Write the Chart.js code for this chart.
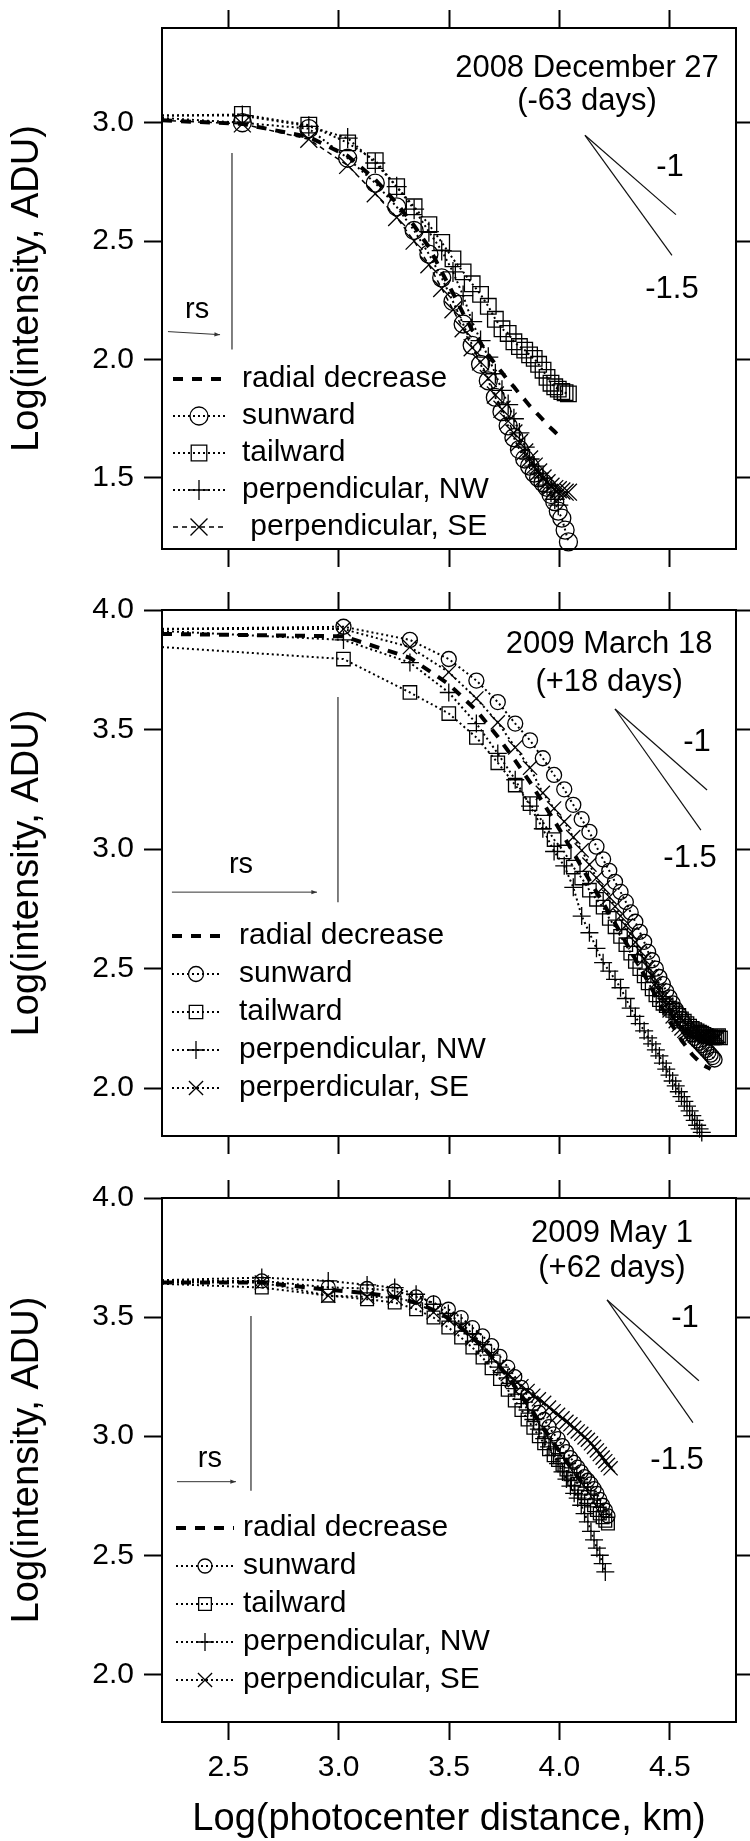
<!DOCTYPE html>
<html>
<head>
<meta charset="utf-8">
<script src="https://cdn.jsdelivr.net/npm/chart.js@4.4.0/dist/chart.umd.min.js"></script>
<style>
  html, body { margin: 0; padding: 0; background: #fff; }
  #wrap { position: relative; width: 750px; height: 1841px; }
  canvas { position: absolute; left: 0; }
</style>
</head>
<body>
<div id="wrap">
  <canvas id="c1" width="750" height="580" style="top:0px"></canvas>
  <canvas id="c2" width="750" height="590" style="top:580px"></canvas>
  <canvas id="c3" width="750" height="671" style="top:1170px"></canvas>
</div>
<script>
// tick values
const xTicks = [2.5, 3.0, 3.5, 4.0, 4.5];
const yTicks1 = [1.5, 2.0, 2.5, 3.0];
const yTicks23 = [2.0, 2.5, 3.0, 3.5, 4.0];

// panel 1: 2008 December 27
const xPanel1 = [2.2, 2.564, 2.865, 3.041, 3.166, 3.263, 3.342, 3.409, 3.467, 3.518, 3.564, 3.605, 3.643, 3.678, 3.710,
  3.740, 3.768, 3.794, 3.819, 3.843, 3.865, 3.886, 3.906, 3.926, 3.944, 3.962, 3.979, 3.995, 4.011, 4.026, 4.041];
const radial1 = [3.01, 2.995, 2.94, 2.86, 2.76, 2.66, 2.565, 2.475, 2.37, 2.28, 2.195, 2.125, 2.07, 2.02, 1.98, 1.945,
  1.91, 1.885, 1.855, 1.83, 1.805, 1.785, 1.765, 1.745, 1.725, 1.71, 1.695, 1.68, 1.665];
const sunward1 = [3.02, 3.00, 2.975, 2.85, 2.745, 2.645, 2.545, 2.445, 2.345, 2.245, 2.15, 2.06, 1.98, 1.91, 1.84, 1.78,
  1.72, 1.67, 1.62, 1.58, 1.55, 1.52, 1.50, 1.48, 1.46, 1.43, 1.40, 1.36, 1.33, 1.28, 1.23];
const tailward1 = [3.03, 3.035, 2.99, 2.915, 2.84, 2.73, 2.645, 2.57, 2.495, 2.425, 2.37, 2.32, 2.275, 2.225, 2.17, 2.13,
  2.11, 2.075, 2.055, 2.04, 2.02, 2.005, 1.98, 1.955, 1.925, 1.90, 1.885, 1.875, 1.865, 1.86, 1.855];
const northwest1 = [3.03, 3.03, 2.985, 2.935, 2.83, 2.73, 2.635, 2.54, 2.46, 2.37, 2.27, 2.16, 2.08, 2.01, 1.94, 1.87,
  1.81, 1.75, 1.69, 1.63, 1.58, 1.55, 1.52, 1.50, 1.47, 1.44, 1.41, 1.385];
const southeast1 = [3.01, 2.995, 2.93, 2.82, 2.70, 2.60, 2.50, 2.40, 2.30, 2.21, 2.13, 2.05, 1.99, 1.92, 1.85, 1.79,
  1.74, 1.69, 1.65, 1.61, 1.58, 1.55, 1.525, 1.50, 1.48, 1.465, 1.455, 1.45, 1.445, 1.44, 1.44];

// panel 2: 2009 March 18
const xPanel2 = [2.2, 3.022, 3.323, 3.499, 3.624, 3.721, 3.800, 3.867, 3.925, 3.976, 4.022, 4.063, 4.101, 4.136, 4.168,
  4.198, 4.226, 4.252, 4.277, 4.301, 4.323, 4.344, 4.364, 4.384, 4.402, 4.420, 4.437, 4.453, 4.469, 4.484, 4.499,
  4.513, 4.527, 4.541, 4.553, 4.566, 4.578, 4.590, 4.602, 4.613, 4.624, 4.635, 4.645, 4.655, 4.665, 4.675, 4.685,
  4.694, 4.703, 4.712, 4.721, 4.730];
const radial2 = [3.90, 3.89, 3.80, 3.69, 3.58, 3.47, 3.37, 3.28, 3.195, 3.12, 3.05, 2.985, 2.925, 2.87, 2.82, 2.775,
  2.73, 2.69, 2.65, 2.61, 2.575, 2.54, 2.505, 2.475, 2.445, 2.415, 2.385, 2.355, 2.33, 2.305, 2.28, 2.26, 2.24, 2.22,
  2.20, 2.185, 2.17, 2.155, 2.14, 2.13, 2.12, 2.11, 2.10, 2.095, 2.09, 2.085, 2.08];
const sunward2 = [3.921, 3.93, 3.875, 3.795, 3.705, 3.615, 3.525, 3.455, 3.38, 3.31, 3.25, 3.185, 3.125, 3.072, 3.01,
  2.957, 2.909, 2.863, 2.821, 2.779, 2.735, 2.696, 2.654, 2.612, 2.570, 2.535, 2.50, 2.465, 2.435, 2.405, 2.38, 2.355,
  2.33, 2.31, 2.29, 2.27, 2.255, 2.24, 2.225, 2.21, 2.20, 2.19, 2.18, 2.17, 2.16, 2.15, 2.14, 2.13, 2.12];
const tailward2 = [3.845, 3.795, 3.655, 3.567, 3.467, 3.361, 3.268, 3.19, 3.113, 3.04, 2.988, 2.925, 2.879, 2.828, 2.79,
  2.757, 2.71, 2.675, 2.635, 2.60, 2.565, 2.53, 2.50, 2.47, 2.44, 2.415, 2.39, 2.37, 2.355, 2.345, 2.335, 2.325, 2.315,
  2.305, 2.29, 2.28, 2.27, 2.26, 2.25, 2.245, 2.24, 2.235, 2.23, 2.225, 2.22, 2.215, 2.215, 2.21, 2.21, 2.215, 2.22, 2.21];
const northwest2 = [3.912, 3.875, 3.78, 3.655, 3.525, 3.40, 3.29, 3.18, 3.085, 2.99, 2.93, 2.84, 2.72, 2.65, 2.585,
  2.525, 2.49, 2.455, 2.42, 2.375, 2.335, 2.30, 2.27, 2.24, 2.21, 2.185, 2.16, 2.135, 2.105, 2.08, 2.055, 2.03, 2.01,
  1.985, 1.965, 1.945, 1.925, 1.905, 1.885, 1.865, 1.845, 1.83, 1.815];
const southeast2 = [3.921, 3.92, 3.845, 3.74, 3.63, 3.53, 3.425, 3.34, 3.235, 3.17, 3.115, 3.05, 2.995, 2.935, 2.88,
  2.84, 2.80, 2.76, 2.72, 2.68, 2.645, 2.61, 2.575, 2.54, 2.505, 2.47, 2.44, 2.41, 2.38, 2.35, 2.325, 2.30, 2.28,
  2.265, 2.25, 2.24, 2.235, 2.23, 2.225, 2.22, 2.22, 2.22, 2.22, 2.22, 2.22, 2.215, 2.215, 2.215, 2.215, 2.215, 2.215];

// panel 3: 2009 May 1
const xPanel3 = [2.2, 2.652, 2.953, 3.129, 3.254, 3.351, 3.430, 3.497, 3.555, 3.606, 3.652, 3.693, 3.731, 3.766, 3.798,
  3.828, 3.856, 3.882, 3.907, 3.931, 3.953, 3.974, 3.994, 4.014, 4.032, 4.050, 4.067, 4.083, 4.099, 4.114, 4.129,
  4.143, 4.157, 4.170, 4.183, 4.196, 4.208, 4.220, 4.232];
const radial3 = [3.645, 3.645, 3.615, 3.60, 3.585, 3.56, 3.53, 3.495, 3.455, 3.415, 3.375, 3.335, 3.29, 3.25, 3.21,
  3.17, 3.135, 3.10, 3.065, 3.03, 3.0, 2.97, 2.945, 2.92, 2.895, 2.87, 2.85, 2.83, 2.81, 2.79, 2.77];
const sunward3 = [3.652, 3.652, 3.625, 3.62, 3.61, 3.585, 3.56, 3.533, 3.498, 3.456, 3.421, 3.38, 3.335, 3.29, 3.25,
  3.205, 3.17, 3.135, 3.10, 3.07, 3.04, 3.01, 2.99, 2.96, 2.935, 2.91, 2.89, 2.87, 2.85, 2.83, 2.815, 2.80, 2.78,
  2.76, 2.735, 2.71, 2.69, 2.665];
const tailward3 = [3.64, 3.624, 3.59, 3.575, 3.561, 3.533, 3.498, 3.456, 3.414, 3.372, 3.33, 3.285, 3.24, 3.195, 3.15,
  3.11, 3.07, 3.035, 3.00, 2.97, 2.945, 2.92, 2.90, 2.88, 2.86, 2.84, 2.82, 2.80, 2.78, 2.76, 2.745, 2.73, 2.71,
  2.69, 2.675, 2.66, 2.645, 2.633];
const northwest3 = [3.655, 3.666, 3.652, 3.635, 3.624, 3.596, 3.554, 3.515, 3.475, 3.43, 3.385, 3.34, 3.29, 3.245,
  3.20, 3.155, 3.11, 3.07, 3.03, 2.99, 2.955, 2.92, 2.885, 2.85, 2.82, 2.79, 2.76, 2.74, 2.71, 2.675, 2.64, 2.60,
  2.565, 2.53, 2.50, 2.465, 2.43];
const southeast3 = [3.645, 3.645, 3.59, 3.585, 3.582, 3.561, 3.52, 3.49, 3.45, 3.41, 3.37, 3.33, 3.295, 3.26, 3.235,
  3.21, 3.19, 3.17, 3.155, 3.14, 3.12, 3.105, 3.09, 3.075, 3.06, 3.05, 3.035, 3.02, 3.01, 2.995, 2.985, 2.97, 2.955,
  2.94, 2.925, 2.91, 2.895, 2.88, 2.865];

const labelsMain = ['radial decrease', 'sunward', 'tailward', 'perpendicular, NW'];

const FONT = '"Liberation Sans", Arial, Helvetica, sans-serif';
Chart.defaults.font.family = FONT;
Chart.defaults.color = '#000';

function pts(xs, ys) {
  return ys.map((y, i) => ({ x: xs[i], y: y }));
}

function series(kind, label, xs, ys, r, seDashed) {
  const base = {
    label: label, data: pts(xs, ys), showLine: true, tension: 0, clip: false,
    borderColor: '#000', pointBorderColor: '#000', pointBackgroundColor: 'rgba(0,0,0,0)',
    borderWidth: 2, borderDash: [2, 3], pointBorderWidth: 1.3
  };
  if (kind === 'radial') {
    return Object.assign(base, { borderWidth: 4, borderDash: [10, 9], pointRadius: 0, markR: 0 });
  }
  const style = { sun: 'circle', tail: 'rect', nw: 'cross', se: 'crossRot' }[kind];
  base.pointStyle = style;
  base.markR = r;
  base.pointRadius = ctx => (ctx.dataIndex === 0 ? 0 : r);
  if (kind === 'se' && seDashed) {
    base.borderDash = [5, 4];
    base.borderWidth = 1.5;
  }
  return base;
}

// legend drawn inside the plot, line sample + marker + text
const boxLegend = {
  id: 'boxLegend',
  afterDatasetsDraw(chart, args, o) {
    const ctx = chart.ctx, a = chart.chartArea;
    ctx.save();
    ctx.font = '30px ' + FONT;
    ctx.textBaseline = 'middle';
    ctx.textAlign = 'left';
    chart.data.datasets.forEach((ds, i) => {
      const y = a.top + o.top + i * o.gap;
      const x0 = a.left + o.left;
      ctx.strokeStyle = '#000';
      ctx.lineWidth = ds.borderWidth;
      ctx.setLineDash(ds.borderDash);
      ctx.beginPath();
      ctx.moveTo(x0, y);
      ctx.lineTo(x0 + o.len, y);
      ctx.stroke();
      ctx.setLineDash([]);
      if (ds.markR > 0) {
        ctx.fillStyle = 'rgba(0,0,0,0)';
        ctx.lineWidth = 1.3;
        Chart.helpers.drawPoint(ctx, { pointStyle: ds.pointStyle, radius: ds.markR, borderWidth: 1.3, rotation: 0 },
          x0 + o.len / 2, y);
      }
      ctx.fillStyle = '#000';
      ctx.fillText(ds.label, x0 + o.text, y);
    });
    ctx.restore();
  }
};

// date label, slope guides and rs marker
const notes = {
  id: 'notes',
  afterDatasetsDraw(chart, args, o) {
    const ctx = chart.ctx, sx = chart.scales.x, sy = chart.scales.y;
    const px = v => sx.getPixelForValue(v), py = v => sy.getPixelForValue(v);
    ctx.save();
    ctx.fillStyle = '#000';
    ctx.textAlign = 'center';
    ctx.textBaseline = 'middle';
    ctx.font = '31px ' + FONT;
    o.title.forEach((t, i) => ctx.fillText(t, px(o.titleX), py(o.titleY[i])));
    ctx.strokeStyle = '#111';
    ctx.lineWidth = 1.2;
    o.slopes.forEach(s => {
      ctx.beginPath();
      ctx.moveTo(px(o.origin[0]), py(o.origin[1]));
      ctx.lineTo(px(s.end[0]), py(s.end[1]));
      ctx.stroke();
      ctx.fillText(s.text, px(s.at[0]), py(s.at[1]));
    });
    // rs
    ctx.strokeStyle = '#555';
    ctx.lineWidth = 1.5;
    ctx.beginPath();
    ctx.moveTo(px(o.rsLine[0]), py(o.rsLine[1]));
    ctx.lineTo(px(o.rsLine[0]), py(o.rsLine[2]));
    ctx.stroke();
    const ax0 = px(o.arrow[0]), ay0 = py(o.arrow[1]), ax1 = px(o.arrow[2]), ay1 = py(o.arrow[3]);
    ctx.strokeStyle = '#333';
    ctx.lineWidth = 1;
    ctx.beginPath();
    ctx.moveTo(ax0, ay0);
    ctx.lineTo(ax1, ay1);
    ctx.stroke();
    const ang = Math.atan2(ay1 - ay0, ax1 - ax0);
    ctx.fillStyle = '#333';
    ctx.beginPath();
    ctx.moveTo(ax1, ay1);
    ctx.lineTo(ax1 - 6 * Math.cos(ang - 0.35), ay1 - 6 * Math.sin(ang - 0.35));
    ctx.lineTo(ax1 - 6 * Math.cos(ang + 0.35), ay1 - 6 * Math.sin(ang + 0.35));
    ctx.closePath();
    ctx.fill();
    ctx.fillStyle = '#000';
    ctx.font = '29px ' + FONT;
    ctx.fillText('rs', px(o.rsText[0]), py(o.rsText[1]));
    ctx.restore();
  }
};

function frameAxis(pos, min, max, ticks, size, extra) {
  const ax = {
    type: 'linear', position: pos, min: min, max: max,
    grid: { display: true, drawOnChartArea: false, drawTicks: true, tickLength: 18, tickWidth: 2, tickColor: '#000' },
    border: { display: true, color: '#000', width: 2 },
    afterBuildTicks: s => { s.ticks = ticks.map(v => ({ value: v })); },
    ticks: { display: false },
    title: { display: false }
  };
  if (pos === 'top' || pos === 'bottom') ax.afterFit = s => { s.height = size; };
  else ax.afterFit = s => { s.width = size; };
  return Object.assign(ax, extra || {});
}

function makePanel(p) {
  const yExtra = {
    ticks: { display: true, font: { size: 30 }, color: '#000', padding: 10, callback: v => Number(v).toFixed(1) },
    title: { display: true, text: 'Log(intensity, ADU)', font: { size: 38 }, color: '#000', padding: { top: 5, bottom: 0 } }
  };
  const xExtra = p.showX ? {
    ticks: { display: true, font: { size: 30 }, color: '#000', padding: 10, maxRotation: 0, callback: v => Number(v).toFixed(1) },
    title: { display: true, text: 'Log(photocenter distance, km)', font: { size: 38, lineHeight: 1.0 }, color: '#000',
      padding: { top: 0, bottom: 2 } }
  } : {};
  new Chart(document.getElementById(p.id), {
    type: 'scatter',
    data: { datasets: p.datasets },
    options: {
      responsive: false, animation: false, events: [],
      layout: { padding: 0 },
      plugins: { legend: { display: false }, tooltip: { enabled: false }, boxLegend: p.legend, notes: p.notes },
      scales: {
        x: frameAxis('bottom', 2.2, 4.8, xTicks, p.botH, xExtra),
        x2: frameAxis('top', 2.2, 4.8, xTicks, p.topH),
        y: frameAxis('left', p.yMin, p.yMax, p.yTicks, 162, yExtra),
        y2: frameAxis('right', p.yMin, p.yMax, p.yTicks, 14)
      }
    },
    plugins: [boxLegend, notes]
  });
}

makePanel({
  id: 'c1', topH: 24, botH: 31, showX: false, yMin: 1.2, yMax: 3.4, yTicks: yTicks1,
  datasets: [
    series('radial', labelsMain[0], xPanel1, radial1),
    series('sun', labelsMain[1], xPanel1, sunward1, 9),
    series('tail', labelsMain[2], xPanel1, tailward1, 11),
    series('nw', labelsMain[3], xPanel1, northwest1, 10),
    series('se', ' perpendicular, SE', xPanel1, southeast1, 12, true)
  ],
  legend: { left: 11, top: 351, gap: 37, len: 52, text: 69 },
  notes: {
    title: ['2008 December 27', '(-63 days)'], titleX: 4.125, titleY: [3.228, 3.09],
    origin: [4.116, 2.947],
    slopes: [{ end: [4.528, 2.612], text: '-1', at: [4.501, 2.813] },
             { end: [4.510, 2.440], text: '-1.5', at: [4.510, 2.294] }],
    rsLine: [2.517, 2.872, 2.042], arrow: [2.227, 2.118, 2.463, 2.105], rsText: [2.359, 2.21]
  }
});

makePanel({
  id: 'c2', topH: 30, botH: 34, showX: false, yMin: 1.8, yMax: 4.0, yTicks: yTicks23,
  datasets: [
    series('radial', labelsMain[0], xPanel2, radial2),
    series('sun', labelsMain[1], xPanel2, sunward2, 7.5),
    series('tail', labelsMain[2], xPanel2, tailward2, 9.5),
    series('nw', labelsMain[3], xPanel2, northwest2, 9),
    series('se', 'perperdicular, SE', xPanel2, southeast2, 10)
  ],
  legend: { left: 10, top: 326, gap: 38, len: 48, text: 67 },
  notes: {
    title: ['2009 March 18', '(+18 days)'], titleX: 4.225, titleY: [3.854, 3.699],
    origin: [4.252, 3.586],
    slopes: [{ end: [4.669, 3.247], text: '-1', at: [4.623, 3.444] },
             { end: [4.641, 3.079], text: '-1.5', at: [4.592, 2.962] }],
    rsLine: [2.997, 3.636, 2.778], arrow: [2.245, 2.82, 2.902, 2.82], rsText: [2.558, 2.933]
  }
});

makePanel({
  id: 'c3', topH: 27, botH: 119, showX: true, yMin: 1.8, yMax: 4.0, yTicks: yTicks23,
  datasets: [
    series('radial', labelsMain[0], xPanel3, radial3),
    series('sun', labelsMain[1], xPanel3, sunward3, 7),
    series('tail', labelsMain[2], xPanel3, tailward3, 9),
    series('nw', labelsMain[3], xPanel3, northwest3, 9),
    series('se', 'perpendicular, SE', xPanel3, southeast3, 10)
  ],
  legend: { left: 14, top: 330, gap: 38, len: 58, text: 67 },
  notes: {
    title: ['2009 May 1', '(+62 days)'], titleX: 4.238, titleY: [3.853, 3.706],
    origin: [4.216, 3.572],
    slopes: [{ end: [4.632, 3.233], text: '-1', at: [4.569, 3.493] },
             { end: [4.605, 3.057], text: '-1.5', at: [4.533, 2.897] }],
    rsLine: [2.603, 3.505, 2.771], arrow: [2.268, 2.809, 2.535, 2.809], rsText: [2.417, 2.906]
  }
});
</script>
</body>
</html>
